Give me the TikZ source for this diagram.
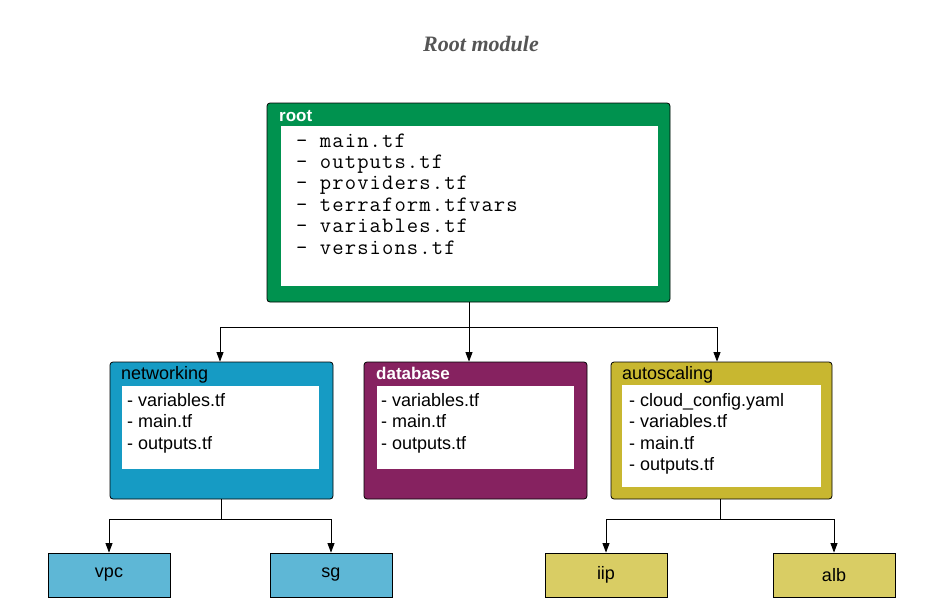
\documentclass[tikz,border=0pt]{standalone}
\usepackage{fontspec}
\setmainfont{Liberation Sans}
\newfontfamily\titlefont{Liberation Serif}
\setmonofont{Latin Modern Mono}[LetterSpace=5]
\usetikzlibrary{arrows.meta}
\definecolor{rootgreen}{RGB}{0,146,79}
\definecolor{netblue}{RGB}{22,155,196}
\definecolor{dbpurple}{RGB}{134,34,96}
\definecolor{autoolive}{RGB}{200,183,48}
\definecolor{leafblue}{RGB}{94,183,214}
\definecolor{leafyellow}{RGB}{217,205,100}
\definecolor{titlegray}{RGB}{85,85,85}
\tikzset{
  outerbox/.style={draw=black, line width=0.8pt, rounded corners=3pt, inner sep=0pt},
  innerbox/.style={fill=white, draw=none, inner sep=0pt},
  leafbox/.style={draw=black, line width=0.8pt, inner sep=0pt, minimum width=122pt, minimum height=44pt, font=\fontsize{18}{21}\selectfont},
  monoline/.style={anchor=base west, inner sep=0pt, font=\ttfamily\fontsize{22}{21}\selectfont},
  sansline/.style={anchor=base west, inner sep=0pt, font=\fontsize{18}{21}\selectfont},
  boxtitle/.style={anchor=base west, inner sep=0pt, font=\fontsize{18}{21}\selectfont},
  conn/.style={line width=0.8pt, draw=black},
  arr/.style={conn, -{Triangle[length=9.5pt,width=7pt]}}
}
\begin{document}
\begin{tikzpicture}[x=1pt,y=-1pt]
\useasboundingbox (0,0) rectangle (943,616);
% title
\node[font=\titlefont\bfseries\itshape\fontsize{22}{24}\selectfont, text=titlegray, inner sep=0pt] (title) at (481,44) {Root module};
% root
\node[outerbox, fill=rootgreen, minimum width=403pt, minimum height=199pt] (root) at (468.5,202.5) {};
\node[innerbox, minimum width=377pt, minimum height=160pt] (rootin) at (469.5,206) {};
\node[boxtitle, text=white, font=\bfseries\fontsize{17}{21}\selectfont] (roottitle) at (279,121) {root};
\node[monoline] (r1) at (296,147) {-\ main.tf};
\node[monoline] (r2) at (296,168.4) {-\ outputs.tf};
\node[monoline] (r3) at (296,189.8) {-\ providers.tf};
\node[monoline] (r4) at (296,211.2) {-\ terraform.tfvars};
\node[monoline] (r5) at (296,232.6) {-\ variables.tf};
\node[monoline] (r6) at (296,254) {-\ versions.tf};
% networking
\node[outerbox, fill=netblue, minimum width=223pt, minimum height=137pt] (net) at (221.5,430.5) {};
\node[innerbox, minimum width=197pt, minimum height=83pt] (netin) at (220.5,427.5) {};
\node[boxtitle] (nettitle) at (121,379) {networking};
\node[sansline] (n1) at (127,406) {- variables.tf};
\node[sansline] (n2) at (127,427.5) {- main.tf};
\node[sansline] (n3) at (127,449) {- outputs.tf};
% database
\node[outerbox, fill=dbpurple, minimum width=223pt, minimum height=137pt] (db) at (475.5,430.5) {};
\node[innerbox, minimum width=197pt, minimum height=83pt] (dbin) at (475.5,427.5) {};
\node[boxtitle, text=white, font=\bfseries\fontsize{17}{21}\selectfont] (dbtitle) at (376,379) {database};
\node[sansline] (d1) at (381,406) {- variables.tf};
\node[sansline] (d2) at (381,427.5) {- main.tf};
\node[sansline] (d3) at (381,449) {- outputs.tf};
% autoscaling
\node[outerbox, fill=autoolive, minimum width=221pt, minimum height=137pt] (auto) at (721.5,430.5) {};
\node[innerbox, minimum width=199pt, minimum height=102pt] (autoin) at (721.5,436) {};
\node[boxtitle] (autotitle) at (622,379) {autoscaling};
\node[sansline] (a1) at (629,406) {- cloud\_config.yaml};
\node[sansline] (a2) at (629,427.5) {- variables.tf};
\node[sansline] (a3) at (629,449) {- main.tf};
\node[sansline] (a4) at (629,470.5) {- outputs.tf};
% leaves
\node[leafbox, fill=leafblue] (vpc) at (109,575) {vpc};
\node[leafbox, fill=leafblue] (sg) at (331,575) {sg};
\node[leafbox, fill=leafyellow] (iip) at (606,575) {iip};
\node[leafbox, fill=leafyellow] (alb) at (834,575) {alb};
% connectors
\coordinate (rj) at (469,327);
\draw[conn] (root.south -| rj) -- (rj);
\draw[arr] (rj) -| ([xshift=-1.5pt]net.north);
\draw[arr] (rj) -- (rj |- db.north);
\draw[arr] (rj) -| ([xshift=-4.5pt]auto.north);
\coordinate (nj) at (221,519);
\draw[conn] (net.south -| nj) -- (nj);
\draw[arr] (nj) -| (vpc.north);
\draw[arr] (nj) -| (sg.north);
\coordinate (aj) at (720,519);
\draw[conn] (auto.south -| aj) -- (aj);
\draw[arr] (aj) -| (iip.north);
\draw[arr] (aj) -| (alb.north);
\end{tikzpicture}
\end{document}
